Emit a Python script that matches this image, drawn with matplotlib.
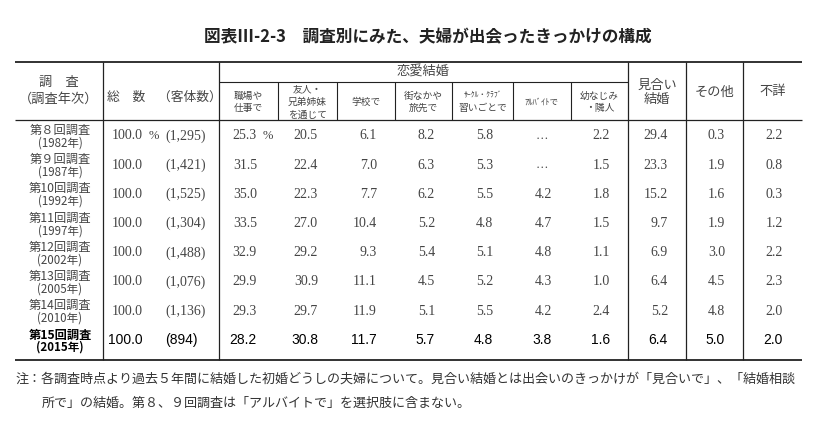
import matplotlib.pyplot as plt

plt.rcParams['font.family'] = ['Noto Sans CJK JP', 'DejaVu Sans']

# データ（図表Ⅲ-2-3）
surveys = ['第８回調査', '第９回調査', '第10回調査', '第11回調査',
           '第12回調査', '第13回調査', '第14回調査', '第15回調査']
years = ['(1982年)', '(1987年)', '(1992年)', '(1997年)',
         '(2002年)', '(2005年)', '(2010年)', '(2015年)']
totals = [100.0, 100.0, 100.0, 100.0, 100.0, 100.0, 100.0, 100.0]
counts = ['1,295', '1,421', '1,525', '1,304', '1,488', '1,076', '1,136', '894']

workplace = [25.3, 31.5, 35.0, 33.5, 32.9, 29.9, 29.3, 28.2]
friends = [20.5, 22.4, 22.3, 27.0, 29.2, 30.9, 29.7, 30.8]
school = [6.1, 7.0, 7.7, 10.4, 9.3, 11.1, 11.9, 11.7]
town = [8.2, 6.3, 6.2, 5.2, 5.4, 4.5, 5.1, 5.7]
circle = [5.8, 5.3, 5.5, 4.8, 5.1, 5.2, 5.5, 4.8]
parttime = [None, None, 4.2, 4.7, 4.8, 4.3, 4.2, 3.8]
childhood = [2.2, 1.5, 1.8, 1.5, 1.1, 1.0, 2.4, 1.6]
arranged = [29.4, 23.3, 15.2, 9.7, 6.9, 6.4, 5.2, 6.4]
other = [0.3, 1.9, 1.6, 1.9, 3.0, 4.5, 4.8, 5.0]
unknown = [2.2, 0.8, 0.3, 1.2, 2.2, 2.3, 2.0, 2.0]

columns = [workplace, friends, school, town, circle, parttime,
           childhood, arranged, other, unknown]

sub_headers = [['職場や', '仕事で'], ['友人・', '兄弟姉妹', 'を通じて'], ['学校で'],
               ['街なかや', '旅先で'], ['ｻｰｸﾙ・ｸﾗﾌﾞ', '習いごとで'], ['ｱﾙﾊﾞｲﾄで'],
               ['幼なじみ', '・隣人']]
side_headers = [['見合い', '結婚'], ['その他'], ['不詳']]

title = '図表Ⅲ-2-3　調査別にみた、夫婦が出会ったきっかけの構成'
note1 = '注：各調査時点より過去５年間に結婚した初婚どうしの夫婦について。見合い結婚とは出会いのきっかけが「見合いで」、「結婚相談'
note2 = '所で」の結婚。第８、９回調査は「アルバイトで」を選択肢に含まない。'

# レイアウト（ピクセル座標）
gray = '#454545'
line_c = '#222222'
left, right = 15, 802
y_top, y_sub, y_head, y_bot = 62.5, 83, 121, 361
main_v = [103, 219, 628, 686, 743]
sub_v = [278, 337, 395, 452, 513, 571]
col_edges = [219, 278, 337, 395, 452, 513, 571, 628, 686, 743, 802]
num_right = [257, 318, 377, 435, 493, 552, 610, 668, 725, 783]
row_y0, row_step = 136, 29.2
num_font = ['Liberation Serif', 'Noto Sans CJK JP']
bold_font = ['Liberation Sans', 'Noto Sans CJK JP']

fig = plt.figure(figsize=(8.2, 4.31), dpi=100)
ax = fig.add_axes([0, 0, 1, 1])
ax.set_xlim(0, 820)
ax.set_ylim(431, 0)
ax.axis('off')

# 罫線
ax.hlines([y_top, y_bot], left, right, color=line_c, lw=1.3)
ax.hlines(y_head, left, right, color=line_c, lw=0.9)
ax.hlines(y_sub, 219, 628, color=line_c, lw=0.8)
ax.vlines(main_v, y_top, y_bot, color=line_c, lw=0.9)
ax.vlines(sub_v, y_sub, y_head, color=line_c, lw=0.8)

# タイトル
ax.text(428, 37, title, ha='center', va='center', fontsize=12,
        fontweight='bold', color='#222222')

# 見出し
ax.text(59, 82, '調　査', ha='center', va='center', fontsize=9.5, color=gray)
ax.text(59, 99, '（調査年次）', ha='center', va='center', fontsize=9.5, color=gray)
ax.text(107, 97, '総　数　（客体数）', ha='left', va='center', fontsize=9.2, color=gray)
ax.text(423.5, 72.5, '恋愛結婚', ha='center', va='center', fontsize=9.5, color=gray)

for i, lines in enumerate(sub_headers):
    xc = (col_edges[i] + col_edges[i + 1]) / 2
    n = len(lines)
    for j, s in enumerate(lines):
        y = 102 + (j - (n - 1) / 2) * 12.5
        fs = 5.5 if s.startswith('ｻ') else (6.2 if s.startswith('ｱ') else 7)
        ax.text(xc, y, s, ha='center', va='center', fontsize=fs, color=gray)

for i, lines in enumerate(side_headers):
    xc = (col_edges[7 + i] + col_edges[8 + i]) / 2
    n = len(lines)
    for j, s in enumerate(lines):
        y = 92 + (j - (n - 1) / 2) * 14
        ax.text(xc, y, s, ha='center', va='center', fontsize=9.5, color=gray)

# 本体
last = len(surveys) - 1
for r in range(len(surveys)):
    y = row_y0 + r * row_step
    is_last = r == last
    c = 'black' if is_last else gray
    lab_w = 'bold' if is_last else 'normal'
    nfont = bold_font if is_last else num_font
    ax.text(60, y - 5.5, surveys[r], ha='center', va='center', fontsize=8.8,
            color=c, fontweight=lab_w)
    ax.text(60, y + 7, years[r], ha='center', va='center', fontsize=8.3,
            color=c, fontweight=lab_w)

    ax.text(143, y, f'{totals[r]:.1f}', ha='right', va='center', fontsize=10,
            family=nfont, color=c)
    ax.text(165, y, f'({counts[r]})', ha='left', va='center', fontsize=10,
            family=nfont, color=c)
    if r == 0:
        ax.text(149, y, '%', ha='left', va='center', fontsize=9,
                family=nfont, color=c)
        ax.text(num_right[0] + 6, y, '%', ha='left', va='center', fontsize=9,
                family=nfont, color=c)

    for k, col in enumerate(columns):
        v = col[r]
        if v is None:
            xc = (col_edges[k] + col_edges[k + 1]) / 2
            ax.text(xc, y, '…', ha='center', va='center', fontsize=9,
                    family=nfont, color=c)
        else:
            ax.text(num_right[k], y, f'{v:.1f}', ha='right', va='center',
                    fontsize=10, family=nfont, color=c)

# 注
ax.text(15, 379, note1, ha='left', va='center', fontsize=9.4, color='#333333')
ax.text(42, 403, note2, ha='left', va='center', fontsize=9.4, color='#333333')

fig.savefig('out.png', dpi=100)
